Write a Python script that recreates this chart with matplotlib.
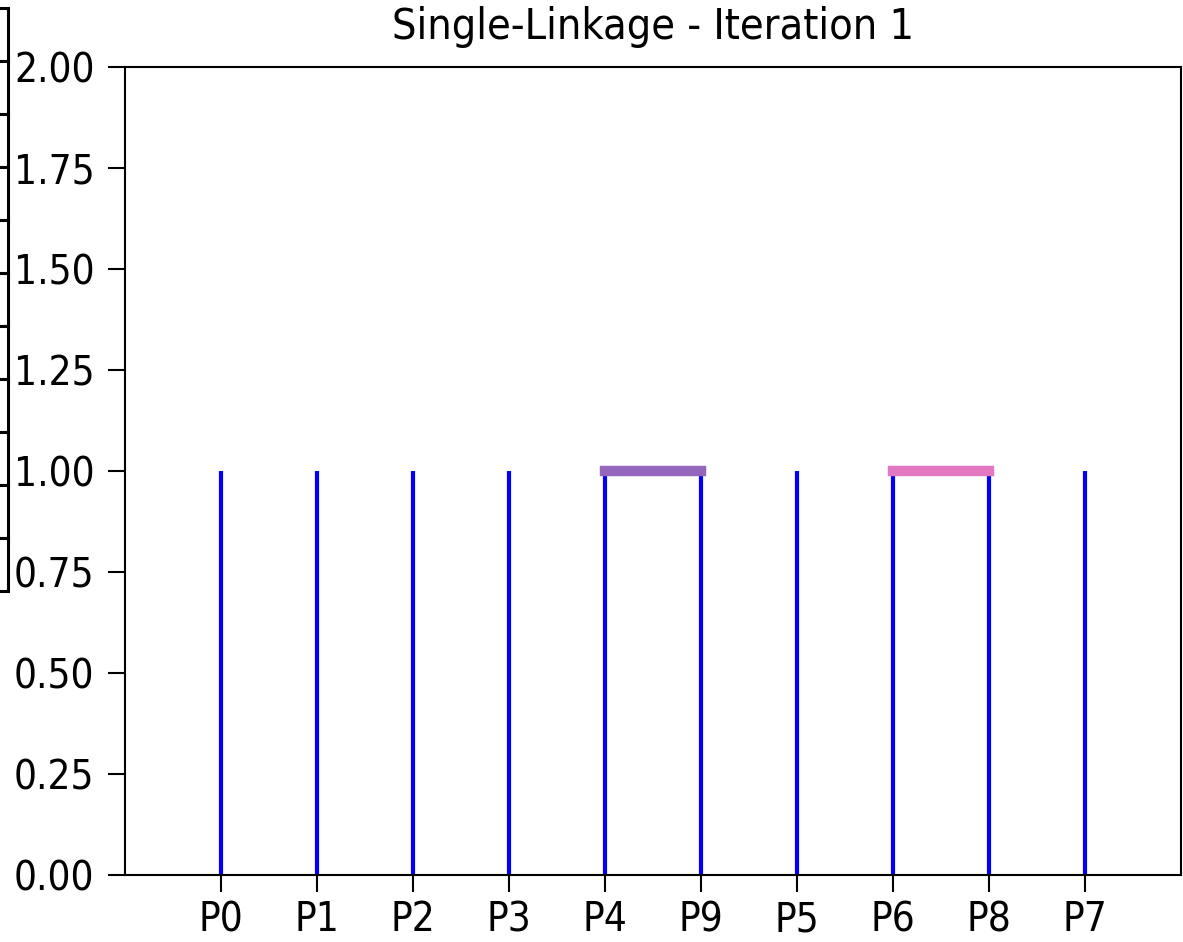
import numpy as np
import matplotlib
matplotlib.use("Agg")
import matplotlib.pyplot as plt

# leaf order on the dendrogram and the height each leaf line reaches
leaves = ["P0", "P1", "P2", "P3", "P4", "P9", "P5", "P6", "P8", "P7"]
leaf_top = [1.0, 1.0, 1.0, 1.0, 1.0, 1.0, 1.0, 1.0, 1.0, 1.0]

# clusters merged in this iteration
merge_left = ["P4", "P6"]
merge_right = ["P9", "P8"]
merge_height = [1.0, 1.0]
merge_colors = ["#9467bd", "#e377c2"]

y_ticks = [0.0, 0.25, 0.5, 0.75, 1.0, 1.25, 1.5, 1.75, 2.0]

# table cut off on the left edge of the figure (only its borders are visible)
table_cells = [[""] for _ in range(11)]

FONT = dict(family=["DejaVu Sans"], stretch="condensed")

fig = plt.figure(figsize=(11.83, 9.42), dpi=100)
ax = fig.add_axes([125 / 1183, 1 - 875 / 942, 1056 / 1183, 808 / 942])

x = np.arange(len(leaves))
pos = dict(zip(leaves, x))
ax.vlines(x, 0, leaf_top, colors="blue", lw=3.0, zorder=2)
for l, r, h, c in zip(merge_left, merge_right, merge_height, merge_colors):
    ax.plot([pos[l], pos[r]], [h, h], color=c, lw=7.5, zorder=3)

ax.set_xlim(-1, len(leaves))
ax.set_ylim(0, 2)
ax.set_xticks(x)
ax.set_xticklabels(leaves, fontsize=29, **FONT)
ax.set_yticks(y_ticks)
ax.set_yticklabels([f"{v:.2f}" for v in y_ticks], fontsize=29, **FONT)
ax.tick_params(length=12, width=1.5, pad=10)
ax.tick_params(axis="x", pad=6)
for s in ax.spines.values():
    s.set_linewidth(1.5)
ax.set_title("Single-Linkage - Iteration 1", fontsize=31, pad=20, **FONT)

tax = fig.add_axes([-0.1, 1 - 591 / 942, 0.1 + 8 / 1183, (591 - 8) / 942])
tax.axis("off")
tb = tax.table(cellText=table_cells, bbox=[0, 0, 1, 1])
for cell in tb.get_celld().values():
    cell.set_linewidth(2.2)

fig.savefig("out.png", dpi=100)
